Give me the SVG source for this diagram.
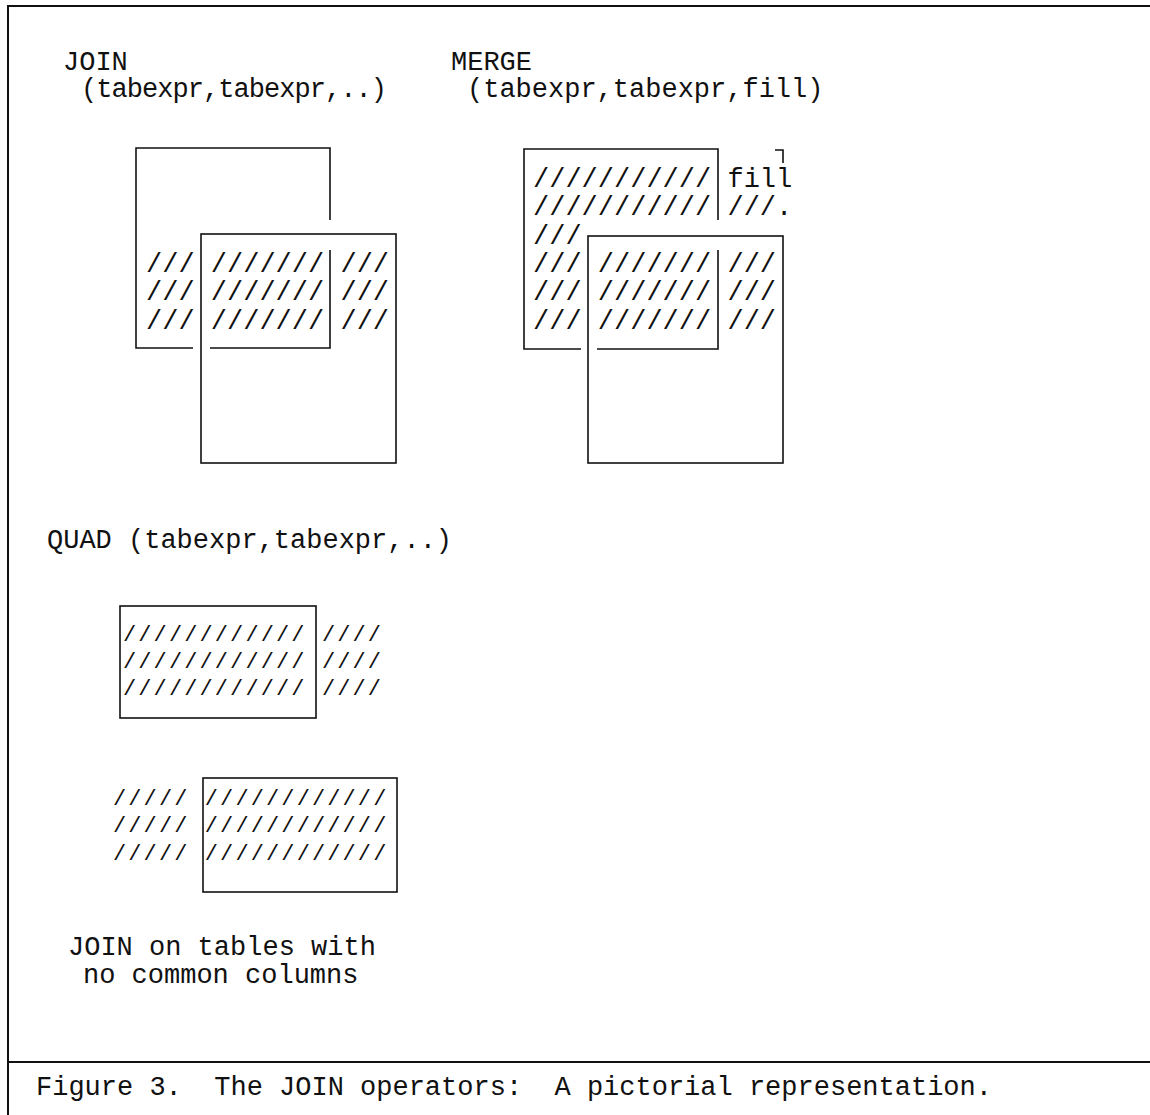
<svg xmlns="http://www.w3.org/2000/svg" width="1150" height="1115" viewBox="0 0 1150 1115">
<style>
  .t { font-family: "Liberation Mono", "Courier New", monospace; font-size: 27px; fill: #111; white-space: pre; }
  .h { font-family: "Liberation Mono", "Courier New", monospace; font-size: 27px; fill: #111; white-space: pre; }
  .hq { font-family: "Liberation Mono", "Courier New", monospace; font-size: 22px; letter-spacing: 2.1px; fill: #111; white-space: pre; }
  .box { fill: none; stroke: #111; stroke-width: 1.6; }
  .frame { fill: none; stroke: #111; stroke-width: 2; }
</style>
<rect x="0" y="0" width="1150" height="1115" fill="#fff"/>
<g id="frame">
  <path class="frame" d="M8,1115 V6 H1150"/>
  <path class="frame" d="M8,1062 H1150"/>
</g>
<g id="join">
  <text class="t" x="63" y="70">JOIN</text>
  <text class="t" x="81" y="97" textLength="306" lengthAdjust="spacing">(tabexpr,tabexpr,..)</text>
  <path class="box" d="M193,348 H136 V148 H330 V220 M330,250 V348 H210"/>
  <rect class="box" x="201" y="234" width="195" height="229"/>
  <text class="h" x="146" y="272" xml:space="preserve">/// /////// ///</text>
  <text class="h" x="146" y="300" xml:space="preserve">/// /////// ///</text>
  <text class="h" x="146" y="329" xml:space="preserve">/// /////// ///</text>
</g>
<g id="merge">
  <text class="t" x="451" y="70">MERGE</text>
  <text class="t" x="467" y="97">(tabexpr,tabexpr,fill)</text>
  <path class="box" d="M581,349 H524 V149 H718 V220 M718,250 V349 H597"/>
  <rect class="box" x="588" y="236" width="195" height="227"/>
  <path class="box" d="M775,150 H783 V163"/>
  <text class="h" x="533" y="187" xml:space="preserve">/////////// fill</text>
  <text class="h" x="533" y="215" xml:space="preserve">/////////// ///.</text>
  <text class="h" x="533" y="244" xml:space="preserve">///</text>
  <text class="h" x="533" y="272" xml:space="preserve">/// /////// ///</text>
  <text class="h" x="533" y="300" xml:space="preserve">/// /////// ///</text>
  <text class="h" x="533" y="329" xml:space="preserve">/// /////// ///</text>
</g>
<g id="quad">
  <text class="t" x="47" y="548">QUAD (tabexpr,tabexpr,..)</text>
  <rect class="box" x="120" y="606" width="196" height="112"/>
  <text class="hq" x="123" y="641" xml:space="preserve">//////////// ////</text>
  <text class="hq" x="123" y="668" xml:space="preserve">//////////// ////</text>
  <text class="hq" x="123" y="695" xml:space="preserve">//////////// ////</text>
  <rect class="box" x="203" y="778" width="194" height="114"/>
  <text class="hq" x="113" y="805" xml:space="preserve">///// ////////////</text>
  <text class="hq" x="113" y="832" xml:space="preserve">///// ////////////</text>
  <text class="hq" x="113" y="860" xml:space="preserve">///// ////////////</text>
  <text class="t" x="68" y="955">JOIN on tables with</text>
  <text class="t" x="83" y="983">no common columns</text>
</g>
<g id="caption">
  <text class="t" x="36" y="1095">Figure 3.  The JOIN operators:  A pictorial representation.</text>
</g>
</svg>
